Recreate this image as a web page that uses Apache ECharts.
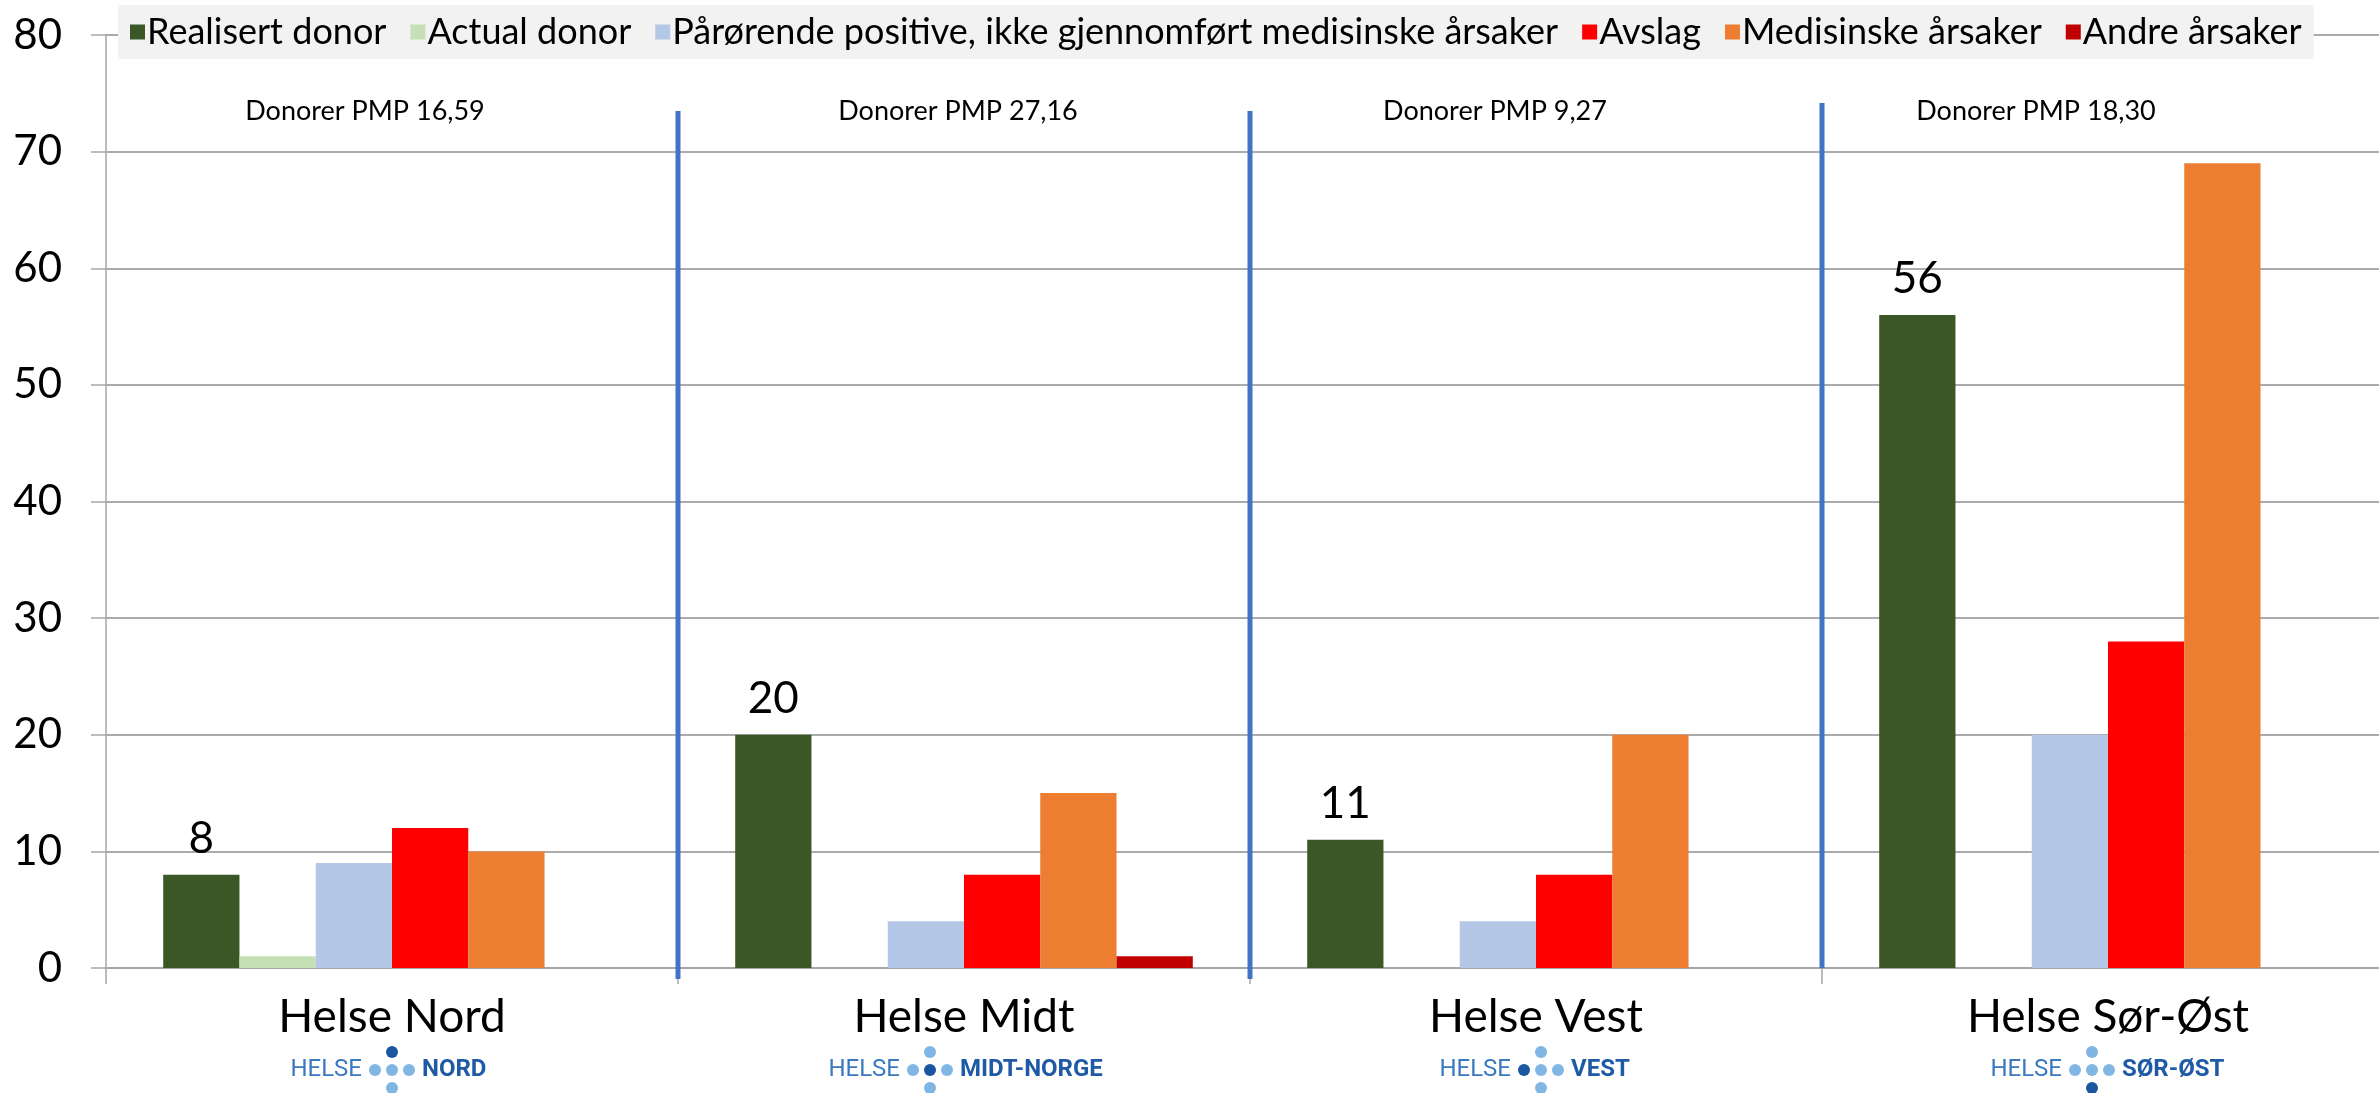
<!DOCTYPE html>
<html><head><meta charset="utf-8">
<script src="https://cdn.jsdelivr.net/npm/echarts@6/dist/echarts.min.js"></script>
<style>html,body{margin:0;padding:0;background:#fff;overflow:hidden}#c{width:2400px;height:1093px}</style>
</head><body><div id="c"></div>
<script>
const categories = ['Helse Nord', 'Helse Midt', 'Helse Vest', 'Helse Sør-Øst'];
const seriesNames = ['Realisert donor', 'Actual donor', 'Pårørende positive, ikke gjennomført medisinske årsaker', 'Avslag', 'Medisinske årsaker', 'Andre årsaker'];
const realisert = [8, 20, 11, 56];
const actual = [1, 0, 0, 0];
const parorende = [9, 4, 4, 20];
const avslag = [12, 8, 8, 28];
const medisinske = [10, 15, 20, 69];
const andre = [0, 1, 0, 0];
const donorerPMP = ['Donorer PMP 16,59', 'Donorer PMP 27,16', 'Donorer PMP 9,27', 'Donorer PMP 18,30'];
const logoNames = ['NORD', 'MIDT-NORGE', 'VEST', 'SØR-ØST'];
const yMin = 0, yMax = 80, yStep = 10;

const colors = ['#3b5725', '#c5e0b4', '#b4c7e7', '#ff0000', '#ed7d31', '#c00000'];
const values = [realisert, actual, parorende, avslag, medisinske, andre];
const FONT = 'Lato, "Noto Sans", sans-serif';

const series = values.map((v, i) => ({
  name: seriesNames[i],
  type: 'bar',
  data: v,
  barGap: '0%',
  barCategoryGap: '20%',
  itemStyle: { color: colors[i] },
  label: i === 0 ? { show: true, position: 'top', distance: 14, color: '#000', fontSize: 44, fontFamily: FONT } : { show: false },
  animation: false
}));

const option = {
  animation: false,
  grid: { left: 106, right: 6, top: 35, bottom: 125, containLabel: false },
  legend: {
    left: 118, top: 5,
    backgroundColor: '#f2f2f2',
    padding: [9, 12, 9, 12],
    itemWidth: 15, itemHeight: 15, itemGap: 24,
    icon: 'rect',
    textStyle: { fontSize: 36, color: '#000', fontFamily: FONT, padding: [0, 0, 0, -3] },
    data: seriesNames
  },
  xAxis: {
    type: 'category',
    data: categories,
    axisLine: { lineStyle: { color: '#a6a6a6', width: 2 } },
    axisTick: { show: true, length: 16, lineStyle: { color: '#a6a6a6', width: 1.5 } },
    axisLabel: { fontSize: 46, color: '#000', fontFamily: FONT, margin: 26 }
  },
  yAxis: {
    type: 'value', min: yMin, max: yMax, interval: yStep,
    axisLine: { show: true, lineStyle: { color: '#a6a6a6', width: 1.5 } },
    axisTick: { show: true, length: 15, lineStyle: { color: '#a6a6a6', width: 1.5 } },
    splitLine: { lineStyle: { color: '#ababab', width: 2 } },
    axisLabel: { fontSize: 42, color: '#000', fontFamily: FONT, margin: 44 }
  },
  series: series
};

const chart = echarts.init(document.getElementById('c'));
chart.setOption(option);

const cx = categories.map(c => chart.convertToPixel({ xAxisIndex: 0 }, c));
const band = cx[1] - cx[0];
const graphics = [];
for (let i = 1; i < categories.length; i++) {
  const x = cx[i] - band / 2;
  graphics.push({ type: 'line', z: 100, shape: { x1: x, y1: i === 3 ? 103 : 111, x2: x, y2: i === 3 ? 968 : 979 },
    style: { stroke: '#4472c4', lineWidth: 5 } });
}
const pmpOffset = [-27, -6, -41, -72];
donorerPMP.forEach((t, i) => {
  graphics.push({ type: 'text', z: 100, x: cx[i] + pmpOffset[i], y: 111,
    style: { text: t, fontSize: 27, fontFamily: FONT, fill: '#000', textAlign: 'center', textVerticalAlign: 'middle' } });
});
const logoOffset = [0, -34, 5, -16];
const darkDot = ['top', 'center', 'left', 'bottom'];
const light = '#7fb6e3', dark = '#1b56a0';
logoNames.forEach((n, i) => {
  const x = cx[i] + logoOffset[i], y = 1070;
  const pos = { left: [-17, 0], center: [0, 0], right: [17, 0], top: [0, -18], bottom: [0, 18] };
  Object.keys(pos).forEach(k => {
    graphics.push({ type: 'circle', z: 100, shape: { cx: x + pos[k][0], cy: y + pos[k][1], r: 6 },
      style: { fill: k === darkDot[i] ? dark : light } });
  });
  graphics.push({ type: 'text', z: 100, x: x - 30, y: y,
    style: { text: 'HELSE', fontSize: 24, fontFamily: 'Roboto, sans-serif', fill: '#3a78c0', textAlign: 'right', textVerticalAlign: 'middle' } });
  graphics.push({ type: 'text', z: 100, x: x + 30, y: y,
    style: { text: n, fontSize: 24, fontWeight: 'bold', fontFamily: 'Roboto, sans-serif', fill: '#1f5aa6', textAlign: 'left', textVerticalAlign: 'middle' } });
});
chart.setOption({ graphic: graphics });
</script></body></html>
